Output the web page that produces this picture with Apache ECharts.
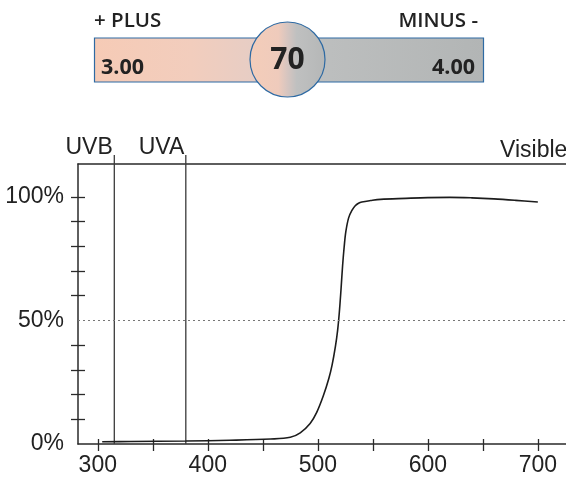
<!DOCTYPE html>
<html>
<head>
<meta charset="utf-8">
<script src="https://cdn.jsdelivr.net/npm/echarts@6/dist/echarts.min.js"></script>
<style>
  html, body { margin: 0; padding: 0; background: #fff; }
  #chart { width: 566px; height: 477px; }
</style>
</head>
<body>
<div id="chart"></div>
<script>
// Transmission curve of the lens, wavelength (nm) vs. percent transmitted
const wavelength = [304, 330, 380, 420, 457, 475, 484, 493, 499, 505, 510, 513, 516, 518, 519.5, 521, 522.5, 524, 525.5, 528, 531, 534, 537, 540, 548, 557, 580, 600, 620, 640, 660, 680, 700];
const transmission = [0.9, 1.0, 1.2, 1.5, 2.0, 2.7, 4.5, 8.3, 12.8, 19.5, 26.5, 32, 39.5, 46, 53, 62, 72, 80, 86, 91.5, 94.5, 96.4, 97.4, 97.9, 98.5, 99.0, 99.4, 99.7, 99.8, 99.6, 99.2, 98.6, 97.9];

// Band boundaries drawn as vertical rules
const bandNames = ['UVB', 'UVA'];
const bandEdges = [315, 380];
const visibleLabel = 'Visible';

// Axis ticks and labels
const xTickValues = [300, 350, 400, 450, 500, 550, 600, 650, 700];
const xLabelValues = [300, 400, 500, 600, 700];
const yTickValues = [10, 20, 30, 40, 60, 70, 80, 90, 100];
const yLabelValues = [0, 50, 100];
const referenceLevel = 50;

// Power panel above the chart
const plusLabel = '+ PLUS';
const minusLabel = 'MINUS -';
const plusPower = '3.00';
const minusPower = '4.00';
const centerValue = '70';

const X_MIN = 282, X_MAX = 725.6, Y_MIN = 0, Y_MAX = 113.3;
const AXIS_COLOR = '#2a2a2a';
const TEXT_COLOR = '#222';
const FONT = 'Liberation Sans, Arial, sans-serif';
const PANEL_FONT = 'Open Sans, sans-serif';

const chart = echarts.init(document.getElementById('chart'), null, { renderer: 'canvas' });

const curve = wavelength.map((w, i) => [w, transmission[i]]);
const bands = bandEdges.map((e, i) => [e, 0, bandNames[i]]);

const baseX = {
  type: 'value', min: X_MIN, max: X_MAX, gridIndex: 0,
  splitLine: { show: false }
};
const baseY = {
  type: 'value', min: Y_MIN, max: Y_MAX, gridIndex: 0,
  splitLine: { show: false }
};

const option = {
  animation: false,
  backgroundColor: '#fff',
  grid: { left: 78, right: 0, top: 164, bottom: 32, containLabel: false },
  xAxis: [
    Object.assign({}, baseX, {
      position: 'bottom',
      axisLine: { show: true, onZero: false, lineStyle: { color: AXIS_COLOR, width: 1.5 } },
      axisTick: { show: true, inside: false, length: 7, customValues: xTickValues, lineStyle: { color: AXIS_COLOR, width: 1.3 } },
      axisLabel: { show: true, customValues: xLabelValues, fontSize: 23, fontFamily: FONT, color: TEXT_COLOR, margin: 10 }
    }),
    Object.assign({}, baseX, {
      position: 'bottom',
      axisLine: { show: false },
      axisTick: { show: true, inside: true, length: 5, customValues: xTickValues, lineStyle: { color: AXIS_COLOR, width: 1.3 } },
      axisLabel: { show: false }
    }),
    Object.assign({}, baseX, {
      position: 'top',
      axisLine: { show: true, onZero: false, lineStyle: { color: AXIS_COLOR, width: 1.5 } },
      axisTick: { show: false },
      axisLabel: { show: false }
    })
  ],
  yAxis: [
    Object.assign({}, baseY, {
      position: 'left',
      axisLine: { show: true, onZero: false, lineStyle: { color: AXIS_COLOR, width: 1.5 } },
      axisTick: { show: true, inside: false, length: 7, customValues: yTickValues, lineStyle: { color: AXIS_COLOR, width: 1.3 } },
      axisLabel: { show: true, customValues: yLabelValues, formatter: '{value}%', fontSize: 23, fontFamily: FONT, color: TEXT_COLOR, margin: 14 }
    }),
    Object.assign({}, baseY, {
      position: 'left',
      axisLine: { show: false },
      axisTick: { show: true, inside: true, length: 7, customValues: yTickValues, lineStyle: { color: AXIS_COLOR, width: 1.3 } },
      axisLabel: { show: false }
    })
  ],
  series: [
    {
      type: 'line',
      xAxisIndex: 0, yAxisIndex: 0,
      data: curve,
      symbol: 'none',
      smooth: 0.35,
      lineStyle: { color: '#1c1c1c', width: 1.6 },
      markLine: {
        silent: true,
        symbol: 'none',
        label: { show: false },
        lineStyle: { color: '#777', width: 1.2, type: [2, 3] },
        data: [{ yAxis: referenceLevel }]
      },
      z: 3
    },
    {
      type: 'custom',
      xAxisIndex: 0, yAxisIndex: 0,
      data: bands,
      encode: { x: 0, y: 1 },
      clip: false,
      renderItem: function (params, api) {
        const bottom = api.coord([api.value(0), Y_MIN]);
        const top = api.coord([api.value(0), Y_MAX]);
        const x = bottom[0];
        return {
          type: 'group',
          children: [
            {
              type: 'line',
              shape: { x1: x, y1: top[1] - 9, x2: x, y2: bottom[1] },
              style: { stroke: '#3a3a3a', lineWidth: 1.3 }
            },
            {
              type: 'text',
              x: x - 1.5, y: top[1] - 5,
              style: {
                text: api.value(2),
                fontSize: 23, fontFamily: FONT, fill: TEXT_COLOR,
                align: 'right', verticalAlign: 'bottom'
              }
            }
          ]
        };
      },
      z: 2
    }
  ],
  graphic: [
    {
      type: 'text', left: 500, top: 139,
      style: { text: visibleLabel, fontSize: 23, fontFamily: FONT, fill: TEXT_COLOR }
    },
    {
      type: 'rect',
      shape: { x: 94.5, y: 38, width: 389, height: 44 },
      style: {
        fill: new echarts.graphic.LinearGradient(0, 0, 1, 0, [
          { offset: 0, color: '#f6cbb6' },
          { offset: 0.25, color: '#f2cdbd' },
          { offset: 0.45, color: '#e4cdc6' },
          { offset: 0.5, color: '#c9c8c6' },
          { offset: 0.56, color: '#bdbfbf' },
          { offset: 1, color: '#b2b5b5' }
        ]),
        stroke: '#2e6aa3', lineWidth: 1.2
      }
    },
    {
      type: 'circle',
      shape: { cx: 287.5, cy: 59.5, r: 37.5 },
      style: {
        fill: new echarts.graphic.LinearGradient(0, 0, 1, 0, [
          { offset: 0, color: '#f4cdb9' },
          { offset: 0.38, color: '#efcbbc' },
          { offset: 0.5, color: '#d6c5c0' },
          { offset: 0.62, color: '#bfc0c0' },
          { offset: 1, color: '#b5b7b7' }
        ]),
        stroke: '#2e6aa3', lineWidth: 1.2
      }
    },
    {
      type: 'text', x: 287.5, y: 60,
      style: { text: centerValue, fontSize: 30, fontWeight: 'bold', fontFamily: PANEL_FONT, fill: '#222', align: 'center', verticalAlign: 'middle' }
    },
    {
      type: 'text', x: 94, y: 21,
      style: { text: plusLabel, fontSize: 20.5, fontWeight: 600, fontFamily: PANEL_FONT, fill: '#222', align: 'left', verticalAlign: 'middle' }
    },
    {
      type: 'text', x: 478, y: 21,
      style: { text: minusLabel, fontSize: 20.5, fontWeight: 600, fontFamily: PANEL_FONT, fill: '#222', align: 'right', verticalAlign: 'middle' }
    },
    {
      type: 'text', x: 101, y: 68,
      style: { text: plusPower, fontSize: 21.5, fontWeight: 'bold', fontFamily: PANEL_FONT, fill: '#222', align: 'left', verticalAlign: 'middle' }
    },
    {
      type: 'text', x: 475, y: 68,
      style: { text: minusPower, fontSize: 21.5, fontWeight: 'bold', fontFamily: PANEL_FONT, fill: '#222', align: 'right', verticalAlign: 'middle' }
    }
  ]
};

chart.setOption(option);
</script>
</body>
</html>
